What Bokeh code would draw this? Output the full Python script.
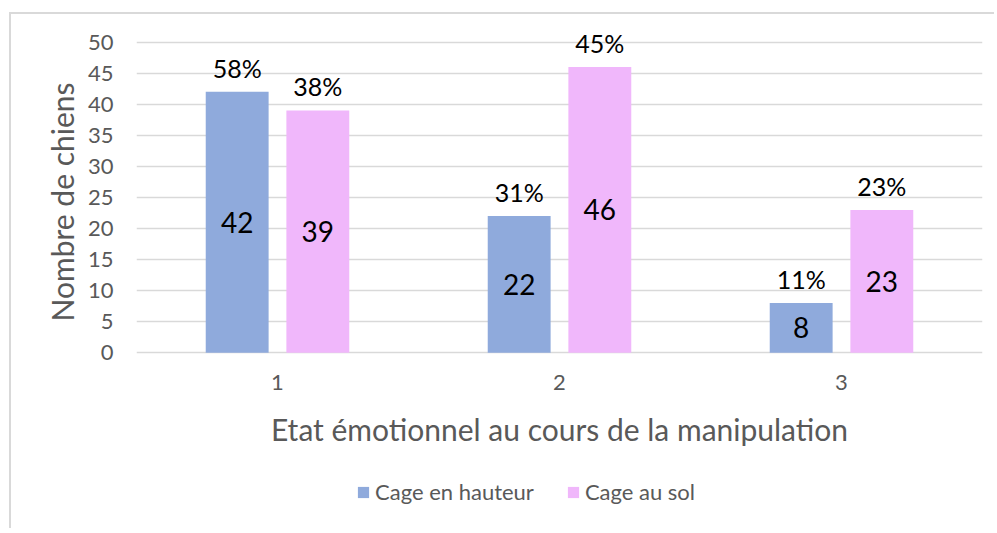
from bokeh.plotting import figure
from bokeh.models import (ColumnDataSource, Range1d, LabelSet, Label, Legend, LegendItem,
                          FactorRange, Title)
from bokeh.core.properties import value
from bokeh.transform import dodge
from bokeh.embed import file_html
from bokeh.resources import INLINE

categories = ["1", "2", "3"]
cage_hauteur = [42, 22, 8]
cage_sol = [39, 46, 23]
pct_hauteur = ["58%", "31%", "11%"]
pct_sol = ["38%", "45%", "23%"]
series_names = ["Cage en hauteur", "Cage au sol"]
colors = ["#8faadc", "#f0b7fb"]
y_ticks = [0, 5, 10, 15, 20, 25, 30, 35, 40, 45, 50]
x_title = "Etat émotionnel au cours de la manipulation"
y_title = "Nombre de chiens"

FONT = "Lato"
GREY = "#595959"

src = ColumnDataSource(dict(
    cat=categories,
    zero=[0 for _ in categories],
    h=cage_hauteur, s=cage_sol,
    h_mid=[v / 2 for v in cage_hauteur], s_mid=[v / 2 for v in cage_sol],
    h_txt=[str(v) for v in cage_hauteur], s_txt=[str(v) for v in cage_sol],
    h_pct=pct_hauteur, s_pct=pct_sol,
))

p = figure(x_range=FactorRange(*categories, range_padding=0), y_range=Range1d(-27, 53),
           frame_width=846, frame_height=497,
           min_border_left=125, min_border_right=12, min_border_top=9, min_border_bottom=8,
           output_backend="svg", toolbar_location=None)
p.styles = {"border-top": "2px solid #d9d9d9", "border-left": "2px solid #d9d9d9",
            "margin-top": "12px", "margin-left": "9px"}

OFF = 0.143
W = 0.223
r1 = p.vbar(x=dodge("cat", -OFF, range=p.x_range), top="h", width=W, source=src,
            fill_color=colors[0], line_color=None)
r2 = p.vbar(x=dodge("cat", OFF, range=p.x_range), top="s", width=W, source=src,
            fill_color=colors[1], line_color=None)

# value labels in the middle of bars
for xf, yf, tf in [(-OFF, "h_mid", "h_txt"), (OFF, "s_mid", "s_txt")]:
    p.add_layout(LabelSet(x=dodge("cat", xf, range=p.x_range), y=yf, text=tf, source=src,
                          text_align="center", text_baseline="middle",
                          text_font=value(FONT), text_font_size="28px", text_color="#000000"))
# percent labels above bars
for xf, yf, tf in [(-OFF, "h", "h_pct"), (OFF, "s", "s_pct")]:
    p.add_layout(LabelSet(x=dodge("cat", xf, range=p.x_range), y=yf, text=tf, source=src,
                          y_offset=14,
                          text_align="center", text_baseline="alphabetic",
                          text_font=value(FONT), text_font_size="25px", text_color="#000000"))

# category tick labels
p.add_layout(LabelSet(x="cat", y="zero", text="cat", source=src, y_offset=-22,
                      text_align="center", text_baseline="top",
                      text_font=value(FONT), text_font_size="22px", text_color=GREY))
# x axis title
p.add_layout(Label(x=len(categories) / 2, y=0, y_offset=-76, text=x_title,
                   text_align="center", text_baseline="middle",
                   text_font=FONT, text_font_size="30px", text_color=GREY))
# y axis title
p.add_layout(Title(text=y_title, align="right", offset=59, standoff=10,
                   text_font=FONT, text_font_size="30px", text_font_style="normal",
                   text_color=GREY), "left")

p.outline_line_color = None
p.background_fill_color = "white"
p.border_fill_color = "white"

p.xaxis.visible = False
p.xgrid.grid_line_color = None
p.ygrid.grid_line_color = "#d9d9d9"
p.ygrid.grid_line_width = 1.5
p.yaxis.ticker = y_ticks

ax = p.yaxis[0]
ax.axis_line_color = None
ax.major_tick_line_color = None
ax.minor_tick_line_color = None
ax.major_label_text_font = FONT
ax.major_label_text_font_size = "22px"
ax.major_label_text_color = GREY
ax.major_label_standoff = 17

legend = Legend(items=[LegendItem(label=series_names[0], renderers=[r1]),
                       LegendItem(label=series_names[1], renderers=[r2])],
                orientation="horizontal", location=(220, 15),
                glyph_width=14, glyph_height=14, label_standoff=5, spacing=32,
                padding=0, margin=0, border_line_color=None, background_fill_alpha=0,
                label_text_font=FONT, label_text_font_size="22px", label_text_color=GREY)
p.add_layout(legend, "center")

open("out.html", "w").write(file_html(p, INLINE))
